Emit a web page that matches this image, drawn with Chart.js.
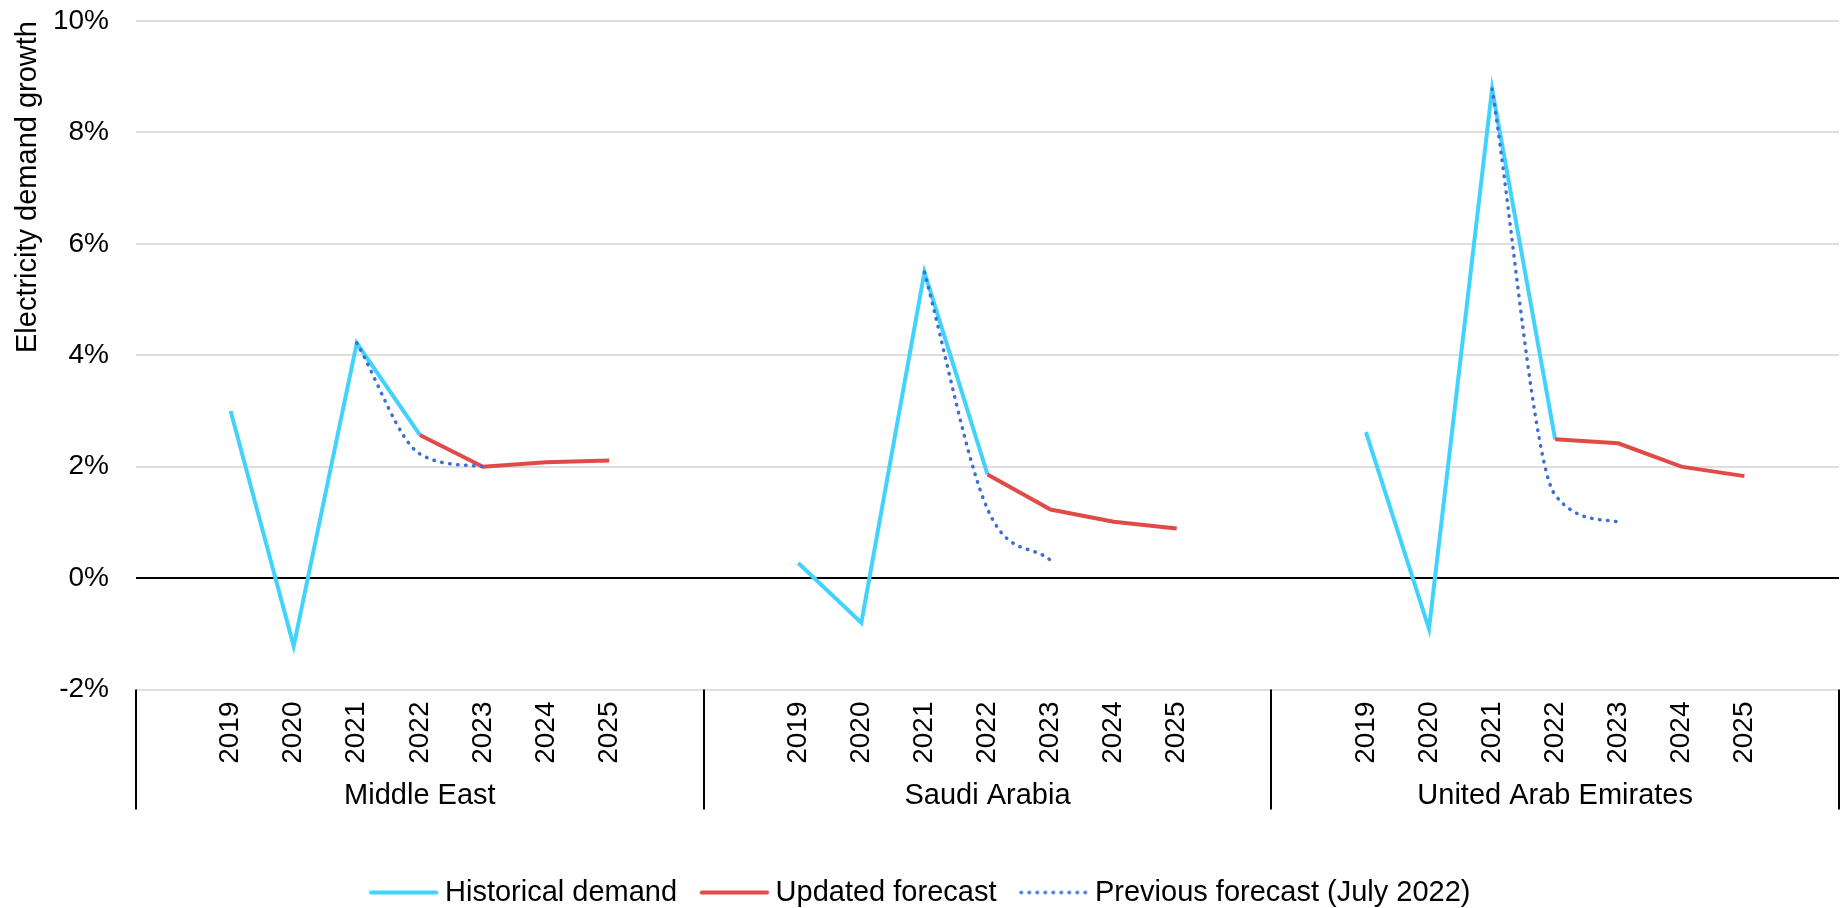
<!DOCTYPE html>
<html lang="en">
<head>
<meta charset="UTF-8" />
<title>Electricity demand growth</title>
<script src="https://cdn.jsdelivr.net/npm/chart.js"></script>
<style>
  html, body { margin: 0; padding: 0; background: #fff; }
  #wrap { width: 1841px; height: 908px; position: relative; }
</style>
</head>
<body>
<div id="wrap"><canvas id="chart"></canvas></div>
<script>
const regions = ['Middle East', 'Saudi Arabia', 'United Arab Emirates'];
const years = ['2019', '2020', '2021', '2022', '2023', '2024', '2025'];

// growth in %, 2019..2025 for each region
const historicalME = [3.0, -1.22, 4.22, 2.57, null, null, null];
const historicalSA = [0.27, -0.80, 5.49, 1.86, null, null, null];
const historicalUAE = [2.62, -0.91, 8.78, 2.49, null, null, null];

const updatedME = [null, null, null, 2.57, 2.0, 2.08, 2.11];
const updatedSA = [null, null, null, 1.86, 1.23, 1.01, 0.89];
const updatedUAE = [null, null, null, 2.49, 2.42, 2.0, 1.83];

const previousME = [null, null, 4.22, 2.23, 2.0, null, null];
const previousSA = [null, null, 5.49, 1.24, 0.32, null, null];
const previousUAE = [null, null, 8.78, 1.49, 1.01, null, null];

const yTicks = [-2, 0, 2, 4, 6, 8, 10];

// each region gets an empty slot on both sides
const withGaps = (...groups) => groups.flatMap(g => [null, ...g, null]);
const labels = regions.flatMap(() => ['', ...years, '']);
const slotsPerGroup = years.length + 2;

const FONT = { family: "'Liberation Sans', Arial, sans-serif", size: 28 };
const FONT_BIG = { family: "'Liberation Sans', Arial, sans-serif", size: 29 };

// legend samples as small canvases (legend ignores borderDash with point styles).
// the line sits to the right of the canvas so it ends close to the label text
function lineSample(color, width, dash) {
  const c = document.createElement('canvas');
  c.width = 90;
  c.height = 8;
  const g = c.getContext('2d');
  g.strokeStyle = color;
  g.lineWidth = width;
  g.lineCap = 'round';
  g.setLineDash(dash);
  g.beginPath();
  g.moveTo(16.5, 4);
  g.lineTo(82, 4);
  g.stroke();
  return c;
}

const separators = {
  id: 'separators',
  afterDraw(chart) {
    const x = chart.scales.x, x2 = chart.scales.x2;
    const ctx = chart.ctx;
    const half = (x.getPixelForValue(1) - x.getPixelForValue(0)) / 2;
    ctx.save();
    ctx.strokeStyle = '#000';
    ctx.lineWidth = 2;
    for (let g = 0; g <= regions.length; g++) {
      const i = g * slotsPerGroup;
      const px = Math.round(x.getPixelForValue(i) - half);
      ctx.beginPath();
      ctx.moveTo(px, chart.chartArea.bottom);
      ctx.lineTo(px, x2.top + 44);
      ctx.stroke();
    }
    ctx.restore();
  }
};

const datasets = [
  {
    label: 'Historical demand',
    data: withGaps(historicalME, historicalSA, historicalUAE),
    borderColor: '#42d3fd',
    backgroundColor: '#42d3fd',
    borderWidth: 4,
    order: 3
  },
  {
    label: 'Updated forecast',
    data: withGaps(updatedME, updatedSA, updatedUAE),
    borderColor: '#e14b47',
    backgroundColor: '#e14b47',
    borderWidth: 4,
    order: 2
  },
  {
    label: 'Previous forecast (July 2022)',
    data: withGaps(previousME, previousSA, previousUAE),
    borderColor: '#3b6fd6',
    backgroundColor: '#3b6fd6',
    borderWidth: 3.5,
    borderDash: [0.5, 7.5],
    borderCapStyle: 'round',
    cubicInterpolationMode: 'monotone',
    order: 1
  }
];

const samples = datasets.map(d => lineSample(d.borderColor, d.borderWidth, d.borderDash || []));

new Chart(document.getElementById('chart'), {
  type: 'line',
  data: { labels: labels, datasets: datasets },
  options: {
    responsive: true,
    maintainAspectRatio: false,
    animation: false,
    spanGaps: false,
    elements: { point: { radius: 0, hoverRadius: 0 }, line: { tension: 0 } },
    layout: { padding: { top: 21, right: 2, left: 0, bottom: -9 } },
    plugins: {
      tooltip: { enabled: false },
      legend: {
        position: 'bottom',
        labels: {
          font: FONT_BIG,
          color: '#000',
          usePointStyle: true,
          pointStyleWidth: 62,
          padding: 22,
          generateLabels: chart =>
            Chart.defaults.plugins.legend.labels.generateLabels(chart)
              .map(item => ({ ...item, pointStyle: samples[item.datasetIndex] })),
          sort: (a, b) => a.datasetIndex - b.datasetIndex
        }
      }
    },
    scales: {
      x: {
        type: 'category',
        offset: true,
        weight: 0,
        grid: { display: false },
        border: { display: false },
        ticks: {
          font: FONT,
          color: '#000',
          autoSkip: false,
          minRotation: 90,
          maxRotation: 90,
          padding: 4
        },
        afterFit: s => { s.height = 76; s.paddingLeft = 0; s.paddingRight = 0; }
      },
      x2: {
        type: 'category',
        labels: regions,
        offset: true,
        position: 'bottom',
        weight: 1,
        grid: { display: false },
        border: { display: false },
        ticks: { font: FONT_BIG, color: '#000', maxRotation: 0, padding: 5.5 },
        afterFit: s => { s.height = 90.5; s.paddingLeft = 0; s.paddingRight = 0; }
      },
      y: {
        min: yTicks[0],
        max: yTicks[yTicks.length - 1],
        afterBuildTicks: s => { s.ticks = yTicks.map(v => ({ value: v })); },
        border: { display: false },
        grid: {
          drawTicks: false,
          lineWidth: 2,
          color: c => (c.tick && c.tick.value === 0 ? '#000' : '#dedede')
        },
        ticks: {
          font: FONT,
          color: '#000',
          padding: 27,
          callback: v => v + '%'
        },
        title: {
          display: true,
          text: 'Electricity demand growth',
          align: 'end',
          font: FONT_BIG,
          color: '#000',
          padding: { top: 11, bottom: 0 }
        },
        afterFit: s => { s.width = 136; s.paddingTop = 0; s.paddingBottom = 0; }
      }
    }
  },
  plugins: [separators]
});
</script>
</body>
</html>
